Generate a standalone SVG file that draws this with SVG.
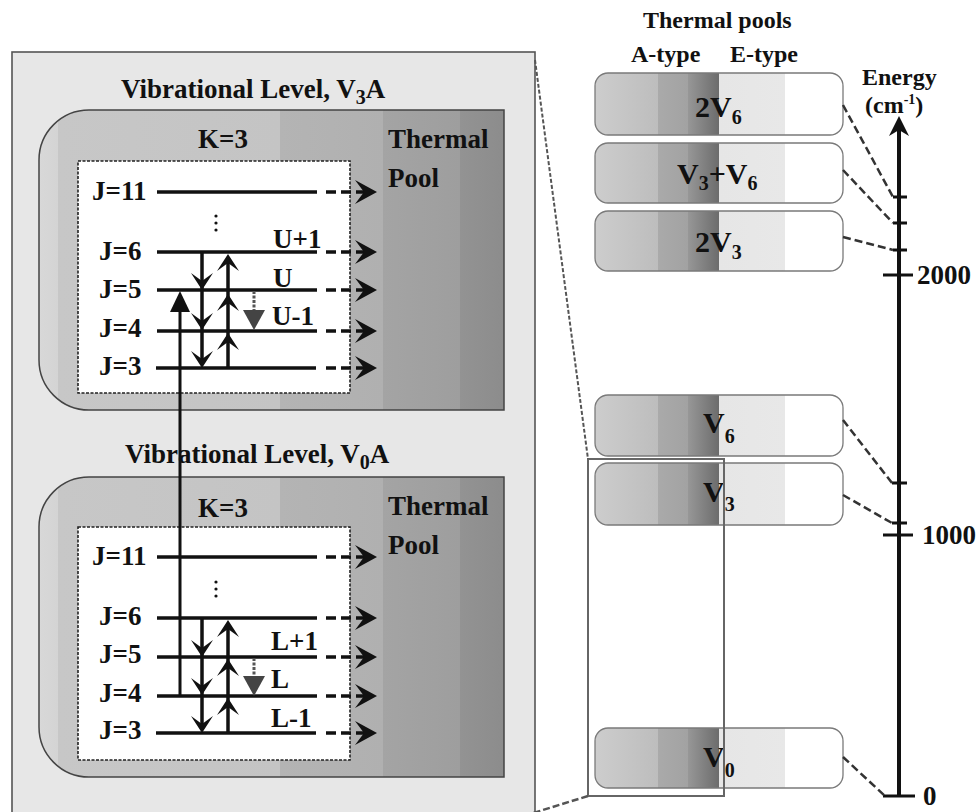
<svg xmlns="http://www.w3.org/2000/svg" width="976" height="812" viewBox="0 0 976 812">
<style>
text{font-family:"Liberation Serif","Times New Roman",serif;font-weight:bold;fill:#111}
.lbl{font-size:27px}
.lvl{stroke:#111;stroke-width:3.5;fill:none}
.dsh{stroke:#111;stroke-width:3.5;stroke-dasharray:10 5;fill:none}
.vln{stroke:#111;stroke-width:3.5;fill:none}
.pool{stroke:#444;stroke-width:1.5;fill:url(#poolG)}
.inner{fill:#fff;stroke:#222;stroke-width:1.6;stroke-dasharray:3 1.5}
.box{fill:url(#boxG);stroke:#7a7a7a;stroke-width:1.3}
.con{stroke:#333;stroke-width:2.5;stroke-dasharray:8 4;fill:none}
.tick{stroke:#111;stroke-width:3}
.big{font-size:30px}
.sub{font-size:20px}
.hd{font-size:24px}
</style>
<defs>
<linearGradient id="poolG" gradientUnits="userSpaceOnUse" x1="39" y1="0" x2="504" y2="0">
<stop offset="0" stop-color="#d8d8d8"/>
<stop offset="0.041" stop-color="#d4d4d4"/>
<stop offset="0.041" stop-color="#c7c7c7"/>
<stop offset="0.518" stop-color="#c4c4c4"/>
<stop offset="0.518" stop-color="#b4b4b4"/>
<stop offset="0.740" stop-color="#b0b0b0"/>
<stop offset="0.740" stop-color="#a4a4a4"/>
<stop offset="0.905" stop-color="#9e9e9e"/>
<stop offset="0.905" stop-color="#939393"/>
<stop offset="1" stop-color="#8c8c8c"/>
</linearGradient>
<linearGradient id="boxG" gradientUnits="userSpaceOnUse" x1="595" y1="0" x2="843" y2="0">
<stop offset="0" stop-color="#cdcdcd"/>
<stop offset="0.254" stop-color="#bdbdbd"/>
<stop offset="0.254" stop-color="#aaaaaa"/>
<stop offset="0.375" stop-color="#a2a2a2"/>
<stop offset="0.375" stop-color="#979797"/>
<stop offset="0.5" stop-color="#6c6c6c"/>
<stop offset="0.5" stop-color="#e6e6e6"/>
<stop offset="0.766" stop-color="#e8e8e8"/>
<stop offset="0.766" stop-color="#ffffff"/>
<stop offset="1" stop-color="#ffffff"/>
</linearGradient>
<path id="ahDown" d="M0,0 L-11,-17 L0,-9 L11,-17 Z" fill="#111"/>
<path id="ahUp" d="M0,0 L-11,17 L0,9 L11,17 Z" fill="#111"/>
<path id="ahRight" d="M0,0 L-22,-12 L-13,0 L-22,12 Z" fill="#111"/>
<path id="triUp" d="M0,0 L-10,21 L10,21 Z" fill="#111"/>
<path id="triDownGray" d="M0,0 L-11,-20 L11,-20 Z" fill="#444"/>
</defs>

<g id="left-panel">
<rect x="12" y="52" width="523" height="770" fill="#e7e7e7" stroke="#555" stroke-width="1.6"/>
</g>

<g id="level-v3a">
<text class="lbl" x="121" y="98">Vibrational Level, V<tspan class="sub" dy="6">3</tspan><tspan dy="-6">A</tspan></text>
<path class="pool" d="M504,110 L89,110 A50,50 0 0 0 39,160 L39,360 A50,50 0 0 0 89,410 L504,410 Z"/>
<text class="lbl" x="198" y="148">K=3</text>
<text class="lbl" x="388" y="148">Thermal</text>
<text class="lbl" x="388" y="187">Pool</text>
<rect class="inner" x="78" y="161" width="272" height="232"/>
<text class="lbl" x="92" y="200">J=11</text>
<text class="lbl" x="99" y="260">J=6</text>
<text class="lbl" x="99" y="298">J=5</text>
<text class="lbl" x="99" y="337">J=4</text>
<text class="lbl" x="99" y="375">J=3</text>
<line class="lvl" x1="157" y1="192" x2="317" y2="192"/>
<line class="lvl" x1="157" y1="252" x2="317" y2="252"/>
<line class="lvl" x1="157" y1="290" x2="317" y2="290"/>
<line class="lvl" x1="157" y1="331" x2="317" y2="331"/>
<line class="lvl" x1="156" y1="368" x2="316" y2="368"/>
<circle cx="216" cy="216" r="1.6" fill="#111"/>
<circle cx="216" cy="223" r="1.6" fill="#111"/>
<circle cx="216" cy="230" r="1.6" fill="#111"/>
<text class="lbl" x="273" y="248">U+1</text>
<text class="lbl" x="273" y="287">U</text>
<text class="lbl" x="272" y="325">U-1</text>
<line class="vln" x1="202" y1="252" x2="202" y2="362"/>
<use href="#ahDown" x="202" y="290"/>
<use href="#ahDown" x="202" y="330"/>
<use href="#ahDown" x="202" y="368"/>
<line class="vln" x1="228" y1="368" x2="228" y2="258"/>
<use href="#ahUp" x="228" y="333"/>
<use href="#ahUp" x="228" y="294"/>
<use href="#ahUp" x="228" y="254"/>
<line x1="254" y1="291" x2="254" y2="312" stroke="#555" stroke-width="3" stroke-dasharray="3 1.5"/>
<use href="#triDownGray" x="254" y="330"/>
<line class="dsh" x1="326" y1="192" x2="366" y2="192"/>
<line class="dsh" x1="326" y1="252" x2="366" y2="252"/>
<line class="dsh" x1="326" y1="290" x2="366" y2="290"/>
<line class="dsh" x1="326" y1="331" x2="366" y2="331"/>
<line class="dsh" x1="326" y1="368" x2="366" y2="368"/>
<use href="#ahRight" x="377" y="192"/>
<use href="#ahRight" x="377" y="252"/>
<use href="#ahRight" x="377" y="290"/>
<use href="#ahRight" x="377" y="331"/>
<use href="#ahRight" x="377" y="368"/>
</g>

<g id="level-v0a">
<text class="lbl" x="125" y="463">Vibrational Level, V<tspan class="sub" dy="6">0</tspan><tspan dy="-6">A</tspan></text>
<path class="pool" d="M504,477 L89,477 A50,50 0 0 0 39,527 L39,727 A50,50 0 0 0 89,777 L504,777 Z"/>
<text class="lbl" x="198" y="517">K=3</text>
<text class="lbl" x="388" y="515">Thermal</text>
<text class="lbl" x="388" y="554">Pool</text>
<rect class="inner" x="78" y="527" width="272" height="233"/>
<text class="lbl" x="92" y="565">J=11</text>
<text class="lbl" x="99" y="625">J=6</text>
<text class="lbl" x="99" y="663">J=5</text>
<text class="lbl" x="99" y="702">J=4</text>
<text class="lbl" x="99" y="739">J=3</text>
<line class="lvl" x1="157" y1="557" x2="317" y2="557"/>
<line class="lvl" x1="157" y1="618" x2="317" y2="618"/>
<line class="lvl" x1="157" y1="657" x2="317" y2="657"/>
<line class="lvl" x1="157" y1="696" x2="317" y2="696"/>
<line class="lvl" x1="156" y1="733" x2="316" y2="733"/>
<circle cx="216" cy="582" r="1.6" fill="#111"/>
<circle cx="216" cy="589" r="1.6" fill="#111"/>
<circle cx="216" cy="596" r="1.6" fill="#111"/>
<text class="lbl" x="271" y="650">L+1</text>
<text class="lbl" x="271" y="688">L</text>
<text class="lbl" x="271" y="727">L-1</text>
<line class="vln" x1="202" y1="618" x2="202" y2="727"/>
<use href="#ahDown" x="202" y="657"/>
<use href="#ahDown" x="202" y="695"/>
<use href="#ahDown" x="202" y="733"/>
<line class="vln" x1="228" y1="733" x2="228" y2="624"/>
<use href="#ahUp" x="228" y="698"/>
<use href="#ahUp" x="228" y="659"/>
<use href="#ahUp" x="228" y="620"/>
<line x1="254" y1="658" x2="254" y2="678" stroke="#555" stroke-width="3" stroke-dasharray="3 1.5"/>
<use href="#triDownGray" x="254" y="696"/>
<line class="dsh" x1="326" y1="557" x2="366" y2="557"/>
<line class="dsh" x1="326" y1="618" x2="366" y2="618"/>
<line class="dsh" x1="326" y1="657" x2="366" y2="657"/>
<line class="dsh" x1="326" y1="696" x2="366" y2="696"/>
<line class="dsh" x1="326" y1="733" x2="366" y2="733"/>
<use href="#ahRight" x="377" y="557"/>
<use href="#ahRight" x="377" y="618"/>
<use href="#ahRight" x="377" y="657"/>
<use href="#ahRight" x="377" y="696"/>
<use href="#ahRight" x="377" y="733"/>
</g>

<g id="pool-headers">
<text class="hd" x="643" y="28">Thermal pools</text>
<text class="hd" x="631" y="62">A-type</text>
<text class="hd" x="730" y="62">E-type</text>
</g>

<g id="pool-2v6">
<rect class="box" x="595" y="73" width="248" height="62" rx="13"/>
<text class="big" x="695" y="117">2V<tspan class="sub" dy="7">6</tspan></text>
</g>
<g id="pool-v3v6">
<rect class="box" x="595" y="143" width="248" height="60" rx="13"/>
<text class="big" x="677" y="184">V<tspan class="sub" dy="6">3</tspan><tspan dy="-6">+V</tspan><tspan class="sub" dy="6">6</tspan></text>
</g>
<g id="pool-2v3">
<rect class="box" x="595" y="211" width="248" height="60" rx="13"/>
<text class="big" x="695" y="252">2V<tspan class="sub" dy="7">3</tspan></text>
</g>
<g id="pool-v6">
<rect class="box" x="595" y="395" width="248" height="61" rx="13"/>
<text class="big" x="703" y="433">V<tspan class="sub" dy="10">6</tspan></text>
</g>
<g id="pool-v3">
<rect class="box" x="595" y="463" width="248" height="62" rx="13"/>
<text class="big" x="703" y="502">V<tspan class="sub" dy="9">3</tspan></text>
</g>
<g id="pool-v0">
<rect class="box" x="595" y="728" width="248" height="60" rx="13"/>
<text class="big" x="703" y="767">V<tspan class="sub" dy="10">0</tspan></text>
</g>

<g id="highlight">
<rect x="588" y="459" width="136" height="337" fill="none" stroke="#666" stroke-width="2"/>
</g>

<g id="energy-axis">
<text class="hd" x="862" y="85">Energy</text>
<text class="hd" x="865" y="113">(cm<tspan font-size="14" dy="-9">-1</tspan><tspan dy="9">)</tspan></text>
<line x1="899" y1="130" x2="899" y2="796" stroke="#111" stroke-width="4"/>
<path d="M899,116 L889,136 L899,130 L909,136 Z" fill="#111"/>
<line class="tick" x1="893" y1="197" x2="907" y2="197"/>
<line class="tick" x1="893" y1="223" x2="907" y2="223"/>
<line class="tick" x1="893" y1="250" x2="907" y2="250"/>
<line class="tick" x1="883" y1="275" x2="913" y2="275"/>
<text class="lbl" x="917" y="284">2000</text>
<line class="tick" x1="892" y1="483" x2="907" y2="483"/>
<line class="tick" x1="892" y1="523" x2="907" y2="523"/>
<line class="tick" x1="883" y1="535" x2="913" y2="535"/>
<text class="lbl" x="922" y="544">1000</text>
<line class="tick" x1="883" y1="796" x2="915" y2="796"/>
<text class="lbl" x="923" y="805">0</text>
</g>

<g id="connectors">
<line x1="180" y1="696" x2="180" y2="308" stroke="#111" stroke-width="3"/>
<use href="#triUp" x="180" y="291"/>
<line class="con" x1="843" y1="105" x2="893" y2="197"/>
<line class="con" x1="843" y1="170" x2="893" y2="223"/>
<line class="con" x1="843" y1="237" x2="893" y2="250"/>
<line class="con" x1="843" y1="420" x2="892" y2="483"/>
<line class="con" x1="843" y1="495" x2="892" y2="523"/>
<line class="con" x1="843" y1="757" x2="885" y2="796"/>
<line x1="535" y1="60" x2="588" y2="459" stroke="#555" stroke-width="2" stroke-dasharray="4 2"/>
<line x1="588" y1="796" x2="530" y2="814" stroke="#555" stroke-width="2.5" stroke-dasharray="7 3"/>
</g>
</svg>
